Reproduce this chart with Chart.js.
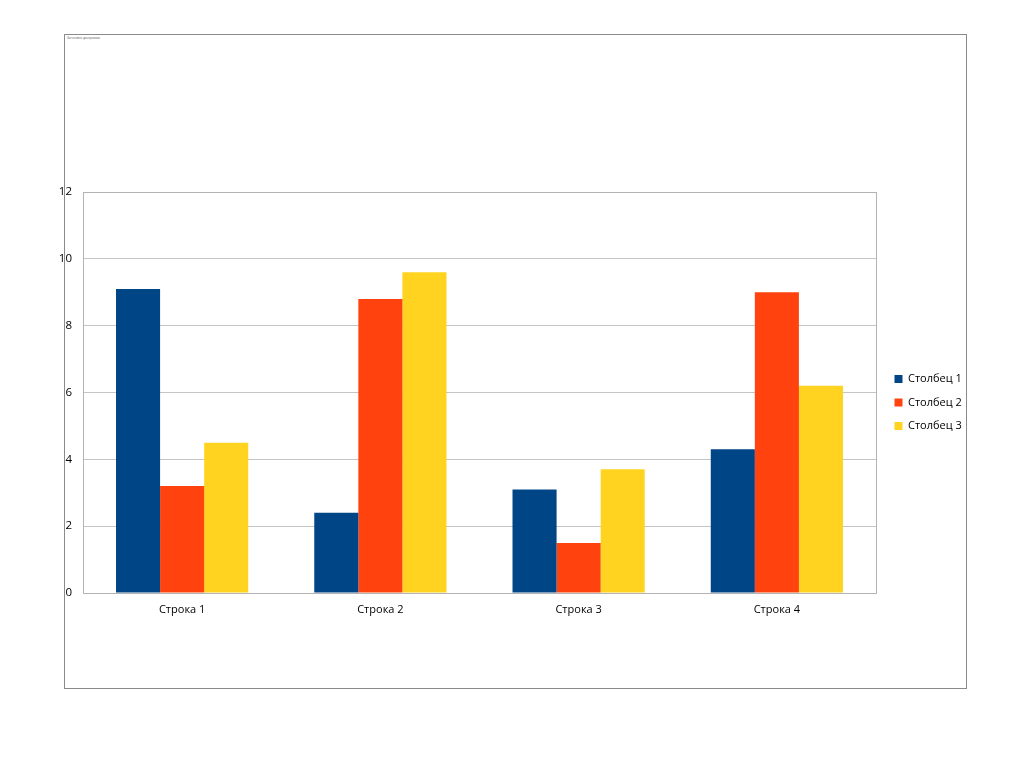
<!DOCTYPE html>
<html>
<head>
<meta charset="utf-8">
<script src="https://cdn.jsdelivr.net/npm/chart.js@4/dist/chart.umd.min.js"></script>
<style>
  html, body { margin: 0; padding: 0; background: #ffffff; }
  #wrap { position: relative; width: 1024px; height: 767px; overflow: hidden; }
  #frame { position: absolute; left: 64px; top: 34px; width: 901px; height: 653px; border: 1px solid #8a8a8a; }
  #tiny { position: absolute; left: 67px; top: 36px; font: 3px "Open Sans", sans-serif; color: #555; white-space: nowrap; }
  canvas { position: absolute; left: 0; top: 0; }
</style>
</head>
<body>
<div id="wrap">
  <div id="frame"></div>
  <div id="tiny">Заголовок диаграммы</div>
  <canvas id="c" width="1024" height="767"></canvas>
</div>
<script>
const categories = ["Строка 1", "Строка 2", "Строка 3", "Строка 4"];
const seriesNames = ["Столбец 1", "Столбец 2", "Столбец 3"];
const col1 = [9.1, 2.4, 3.1, 4.3];
const col2 = [3.2, 8.8, 1.5, 9.0];
const col3 = [4.5, 9.6, 3.7, 6.2];
const yTicks = [0, 2, 4, 6, 8, 10, 12];
const colors = ["#004586", "#ff420e", "#ffd320"];

const FONT = '"Open Sans", "Liberation Sans", sans-serif';

const framePlugin = {
  id: 'plotFrame',
  afterInit(chart) {
    const lg = chart.legend;
    if (lg) {
      const orig = lg.fit.bind(lg);
      lg.fit = function () { orig(); this.width = 148; };
    }
  },
  afterLayout(chart) {
    const lg = chart.legend;
    if (lg) {
      lg.left += 6; lg.right += 6;
      lg.top -= 10; lg.bottom -= 10;
    }
  },
  afterDraw(chart) {
    const a = chart.chartArea, ctx = chart.ctx;
    ctx.save();
    ctx.strokeStyle = '#b3b3b3';
    ctx.lineWidth = 1;
    ctx.strokeRect(Math.round(a.left) + 0.5, Math.round(a.top) + 0.5, Math.round(a.right - a.left), Math.round(a.bottom - a.top));
    ctx.restore();
  }
};

new Chart(document.getElementById('c'), {
  type: 'bar',
  data: {
    labels: categories,
    datasets: [col1, col2, col3].map((d, i) => ({
      label: seriesNames[i],
      data: d,
      backgroundColor: colors[i],
      borderWidth: 0,
      categoryPercentage: 0.667,
      barPercentage: 1.0
    }))
  },
  options: {
    responsive: false,
    animation: false,
    events: [],
    layout: { padding: { left: 0, right: 0, top: 192, bottom: 134 } },
    plugins: {
      tooltip: { enabled: false },
      title: { display: false },
      legend: {
        position: 'right',
        align: 'center',
        labels: {
          boxWidth: 8,
          boxHeight: 8,
          padding: 12.5,
          color: '#000',
          font: { family: FONT, size: 11 }
        }
      }
    },
    scales: {
      x: {
        grid: { display: false, drawTicks: false },
        border: { display: true, color: '#b3b3b3' },
        ticks: { color: '#000', font: { family: FONT, size: 11 }, padding: 10 },
        afterFit(s) { s.height = 40; }
      },
      y: {
        min: 0,
        max: 12,
        afterBuildTicks(s) { s.ticks = yTicks.map(v => ({ value: v })); },
        grid: { color: '#c4c4c4', drawTicks: false },
        border: { display: true, color: '#b3b3b3' },
        ticks: { color: '#000', font: { family: FONT, size: 11.5 }, padding: 11 },
        afterFit(s) { s.width = 83; }
      }
    }
  },
  plugins: [framePlugin]
});
</script>
</body>
</html>
